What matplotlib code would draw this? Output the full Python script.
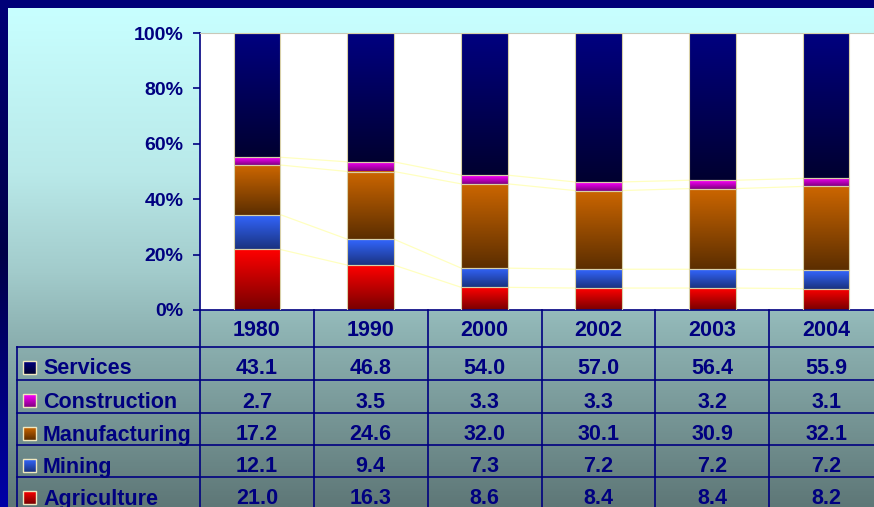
import numpy as np
import matplotlib.pyplot as plt
from matplotlib.colors import to_rgb
from matplotlib.patches import Rectangle

plt.rcParams['font.family'] = ['Liberation Sans', 'DejaVu Sans']
plt.rcParams['font.weight'] = 'bold'

# data
years = ['1980', '1990', '2000', '2002', '2003', '2004']
services = [43.1, 46.8, 54.0, 57.0, 56.4, 55.9]
construction = [2.7, 3.5, 3.3, 3.3, 3.2, 3.1]
manufacturing = [17.2, 24.6, 32.0, 30.1, 30.9, 32.1]
mining = [12.1, 9.4, 7.3, 7.2, 7.2, 7.2]
agriculture = [21.0, 16.3, 8.6, 8.4, 8.4, 8.2]

# table order (top to bottom) and gradient colours (top, bottom)
rows = [('Services', services, '#000080', '#000030'),
        ('Construction', construction, '#FF00FF', '#800080'),
        ('Manufacturing', manufacturing, '#CC6600', '#5C2E00'),
        ('Mining', mining, '#3366FF', '#1A3380'),
        ('Agriculture', agriculture, '#FF0000', '#780000')]

navy = '#000080'
W, H = 874, 507


def grad(c_top, c_bot, n=64):
    a = np.array(to_rgb(c_top))
    b = np.array(to_rgb(c_bot))
    t = np.linspace(0, 1, n)[:, None]
    return (a + (b - a) * t)[:, None, :]


def multi_grad(stops, n=256):
    pos = [s[0] for s in stops]
    cols = np.array([to_rgb(s[1]) for s in stops])
    t = np.linspace(0, 1, n)
    out = np.stack([np.interp(t, pos, cols[:, k]) for k in range(3)], axis=1)
    return out[:, None, :]


fig = plt.figure(figsize=(W / 100, H / 100), dpi=100)

# background
bg = fig.add_axes([0, 0, 1, 1])
bg.set_xlim(0, W)
bg.set_ylim(H, 0)
bg.axis('off')
bg.imshow(multi_grad([(0, '#C8FFFF'), (0.33, '#B9E9E9'), (0.53, '#A2CBCB'),
                      (0.65, '#8EB3B3'), (1.0, '#5E7777')]),
          extent=[8, W, H, 8], aspect='auto', origin='upper')
bg.imshow(multi_grad([(0, '#000078'), (0.5, '#000048'), (1.0, '#0000A8')]),
          extent=[0, 8, H, 0], aspect='auto', origin='upper')
bg.add_patch(Rectangle((0, 0), W, 8, color='#000078', lw=0))
bg.set_xlim(0, W)
bg.set_ylim(H, 0)

# chart
left, top, bottom = 200, 33, 310
col_w = 683 / 6
ax = fig.add_axes([left / W, 1 - bottom / H, 6 * col_w / W, (bottom - top) / H])
ax.set_facecolor('white')
x = np.arange(len(years))
bw = 0.41
totals = np.sum([r[1] for r in rows], axis=0)
base = np.zeros(len(years))
tops = []
for name, vals, c1, c2 in rows[::-1]:
    pct = np.array(vals) / totals * 100
    bars = ax.bar(x, pct, bw, bottom=base, color='none', edgecolor='#D8D0A8',
                  lw=0.8, zorder=3)
    g = grad(c1, c2)
    for r in bars:
        x0, y0 = r.get_xy()
        ax.imshow(g, extent=[x0, x0 + r.get_width(), y0, y0 + r.get_height()],
                  aspect='auto', origin='upper', zorder=2, interpolation='bilinear')
    base = base + pct
    tops.append(base.copy())

for t in tops[:-1]:
    for i in range(len(years) - 1):
        ax.plot([i + bw / 2, i + 1 - bw / 2], [t[i], t[i + 1]],
                color='#FFFFC0', lw=0.9, zorder=1.5)

ax.set_xlim(-0.5, 5.5)
ax.set_ylim(0, 100)
ax.set_xticks([])
ax.set_yticks(range(0, 101, 20))
ax.set_yticklabels([f'{v}%' for v in range(0, 101, 20)])
ax.tick_params(axis='y', length=5, width=1.2, color=navy, pad=7,
               labelsize=14, labelcolor=navy)
ax.spines['left'].set_color(navy)
ax.spines['left'].set_linewidth(1.2)
ax.spines['bottom'].set_color(navy)
ax.spines['bottom'].set_linewidth(1.2)
ax.spines['top'].set_color('#C8C8B8')
ax.spines['right'].set_visible(False)

# data table
tb = fig.add_axes([0, 0, 1, 1])
tb.set_xlim(0, W)
tb.set_ylim(H, 0)
tb.axis('off')
tb.patch.set_visible(False)

row_tops = [347, 380, 413, 445, 477]
lw = 1.2
for y in row_tops:
    tb.plot([17, W], [y, y], color=navy, lw=lw)
tb.plot([17, 17], [347, H], color=navy, lw=lw)
for k in range(6):
    xc = left + k * col_w
    tb.plot([xc, xc], [bottom, H], color=navy, lw=lw)

for k, yr in enumerate(years):
    tb.text(left + (k + 0.5) * col_w, 336, yr, ha='center', va='baseline',
            fontsize=15.5, color=navy)

for (name, vals, c1, c2), yt in zip(rows, row_tops):
    tb.imshow(grad(c1, c2), extent=[23, 36, yt + 27, yt + 14], aspect='auto',
              origin='upper')
    tb.add_patch(Rectangle((23, yt + 14), 13, 13, fill=False,
                           edgecolor='#F0E8C0', lw=1))
    tb.text(43, yt + 27.5, name, ha='left', va='baseline', fontsize=15.5,
            color=navy)
    for k, v in enumerate(vals):
        tb.text(left + (k + 0.5) * col_w, yt + 27.5, f'{v:.1f}', ha='center',
                va='baseline', fontsize=15.5, color=navy)
tb.set_xlim(0, W)
tb.set_ylim(H, 0)

fig.savefig('out.png', dpi=100)
